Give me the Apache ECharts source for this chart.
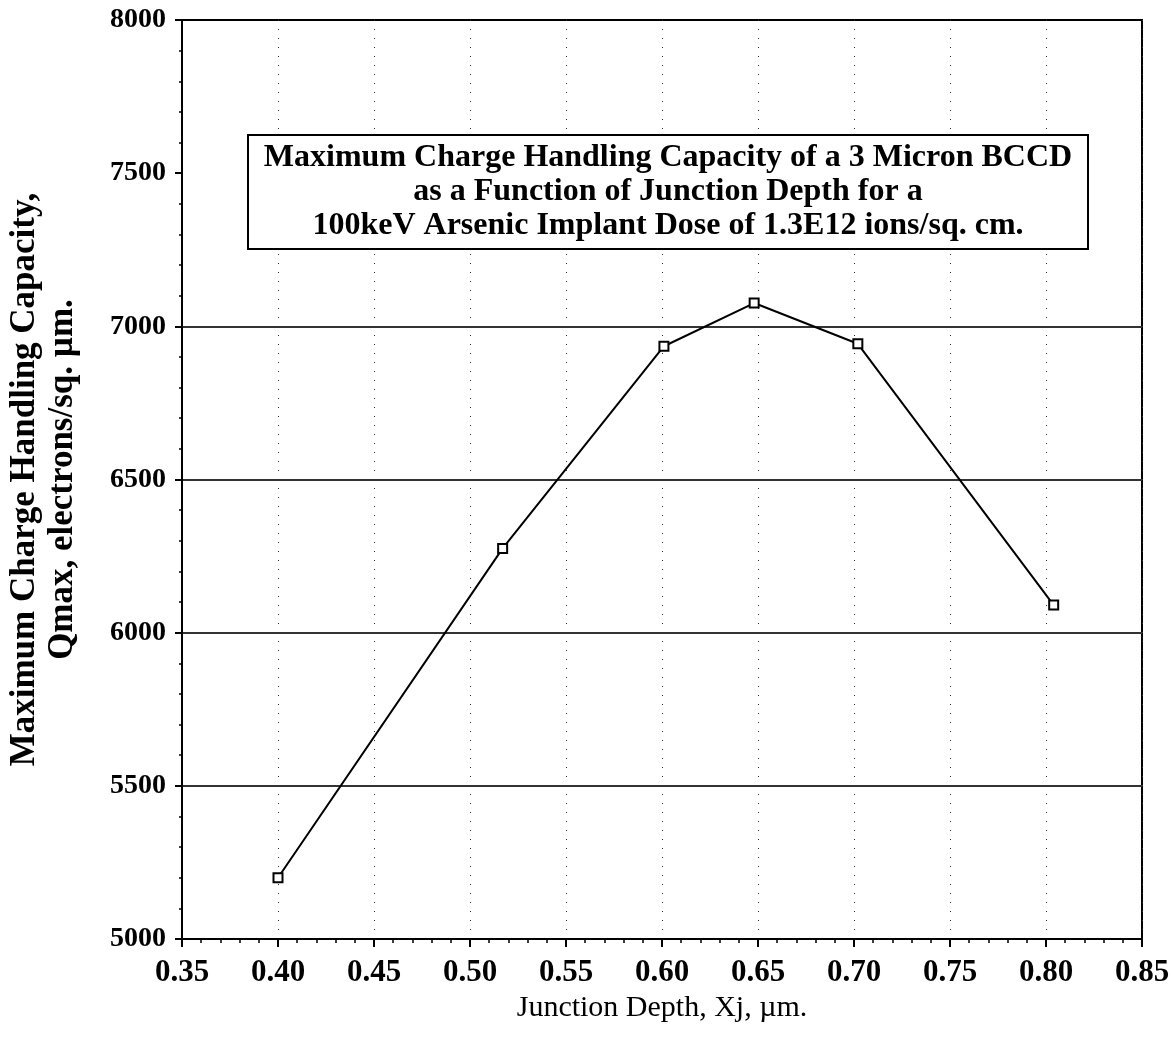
<!DOCTYPE html>
<html>
<head>
<meta charset="utf-8">
<script src="https://cdn.jsdelivr.net/npm/echarts@6/dist/echarts.min.js"></script>
<style>
html,body{margin:0;padding:0;background:#fff;}
#chart{width:1175px;height:1038px;}
</style>
</head>
<body>
<div id="chart"></div>
<script>
// Data
const junctionDepth = [0.40, 0.517, 0.601, 0.648, 0.702, 0.804];
const qmax = [5200, 6275, 6935, 7076, 6943, 6090];
const titleLines = [
  'Maximum Charge Handling Capacity of a 3 Micron BCCD',
  'as a Function of Junction Depth for a',
  '100keV Arsenic Implant Dose of 1.3E12 ions/sq. cm.'
];
const xAxisName = 'Junction Depth, Xj, \u00b5m.';
const yAxisNameLines = ['Maximum Charge Handling Capacity,', 'Qmax, electrons/sq. \u00b5m.'];

const serif = "'Liberation Serif', 'Times New Roman', serif";
const chart = echarts.init(document.getElementById('chart'));
chart.setOption({
  backgroundColor: '#fff',
  animation: false,
  title: {
    text: titleLines.join('\n'),
    left: 652,
    top: 135,
    textAlign: 'center',
    borderColor: '#000',
    borderWidth: 2,
    backgroundColor: '#fff',
    padding: [6, 16, 6, 16],
    textStyle: {
      fontFamily: serif,
      fontSize: 32,
      fontWeight: 'bold',
      color: '#000',
      lineHeight: 34
    },
    z: 10
  },
  grid: {
    left: 182, right: 33, top: 20, bottom: 99,
    outerBoundsMode: 'none',
    containLabel: false,
    show: true, borderColor: '#000', borderWidth: 2, backgroundColor: 'transparent'
  },
  xAxis: {
    type: 'value',
    min: 0.35, max: 0.85, interval: 0.05,
    name: xAxisName,
    nameLocation: 'middle',
    nameGap: 48,
    nameTextStyle: { fontFamily: serif, fontSize: 30, color: '#000' },
    axisLine: { lineStyle: { color: '#000', width: 2 } },
    axisTick: { length: 8, lineStyle: { color: '#000', width: 2 } },
    minorTick: { show: true, splitNumber: 5, length: 4, lineStyle: { color: '#000', width: 1.5 } },
    axisLabel: {
      fontFamily: serif, fontSize: 31, fontWeight: 'bold', color: '#000', margin: 18,
      formatter: v => v.toFixed(2)
    },
    splitLine: { show: true, lineStyle: { color: '#333', width: 1, type: [1, 8] } }
  },
  yAxis: {
    type: 'value',
    min: 5000, max: 8000, interval: 500,
    name: yAxisNameLines.join('\n'),
    nameLocation: 'middle',
    nameRotate: 90,
    nameGap: 100,
    nameTextStyle: { fontFamily: serif, fontSize: 35, fontWeight: 'bold', color: '#000', lineHeight: 38 },
    axisLine: { lineStyle: { color: '#000', width: 2 } },
    axisTick: { length: 7, lineStyle: { color: '#000', width: 2 } },
    minorTick: { show: true, splitNumber: 5, length: 3, lineStyle: { color: '#000', width: 1.5 } },
    axisLabel: {
      fontFamily: serif, fontSize: 28, fontWeight: 'bold', color: '#000', margin: 16,
      formatter: v => String(v)
    },
    splitLine: {
      show: true,
      lineStyle: { color: ['#000', '#333', '#333', '#333', '#333', 'rgba(0,0,0,0)', '#000'], width: 2 }
    }
  },
  series: [{
    type: 'line',
    data: junctionDepth.map((x, i) => [x, qmax[i]]),
    symbol: 'rect',
    symbolSize: 9,
    itemStyle: { color: '#fff', borderColor: '#000', borderWidth: 2 },
    lineStyle: { color: '#000', width: 2 },
    z: 5
  }]
});
</script>
</body>
</html>
